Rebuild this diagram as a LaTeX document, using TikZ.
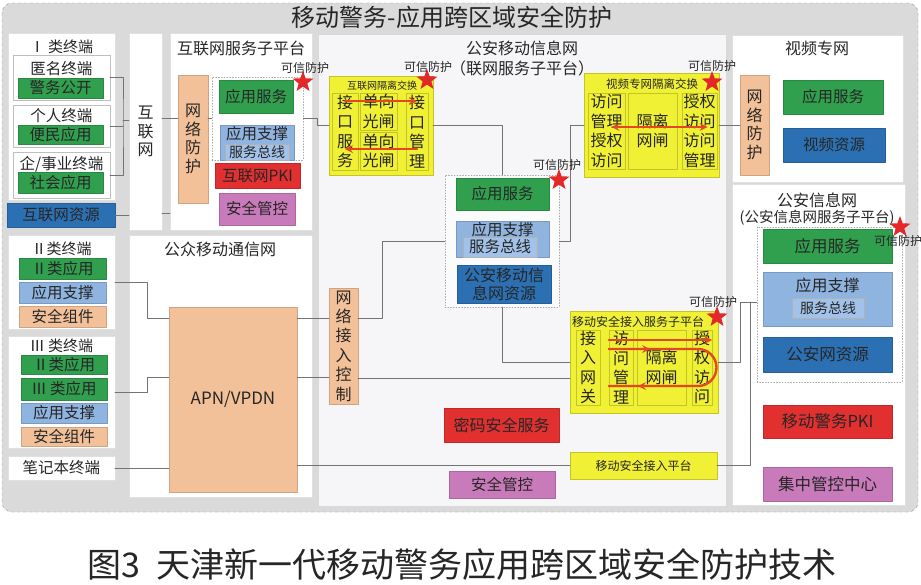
\documentclass[tikz,border=0pt]{standalone}
\usepackage{fontspec}
\setmainfont{Noto Sans CJK SC}
\usetikzlibrary{arrows,shapes.geometric}
\definecolor{framegray}{RGB}{218,218,218}
\definecolor{coregray}{RGB}{246,246,248}
\definecolor{appgreen}{RGB}{48,160,78}
\definecolor{supblue}{RGB}{143,180,224}
\definecolor{busblue}{RGB}{162,194,234}
\definecolor{resblue}{RGB}{44,112,180}
\definecolor{pkired}{RGB}{226,48,48}
\definecolor{ctlpurple}{RGB}{200,122,186}
\definecolor{protorange}{RGB}{243,193,153}
\definecolor{isoyellow}{RGB}{240,240,52}
\definecolor{colline}{RGB}{196,196,40}
\definecolor{flowred}{RGB}{228,72,32}
\definecolor{starred}{RGB}{226,40,40}
\newcommand{\pxfont}[2]{\fontsize{#1}{#2}\selectfont}

\begin{document}
\begin{tikzpicture}[x=1pt, y=-1pt, line cap=round, line join=round, >=stealth,
    every node/.style={inner sep=0pt, align=center, text=black!85, font=\pxfont{15.5}{17}},
    wh/.style 2 args={minimum width=#1pt, minimum height=#2pt},
    panel/.style={fill=white, draw=black!12},
    term/.style={fill=white, draw=black!25},
    dotbox/.style={draw=black!35, dotted, thick},
    appbox/.style={fill=appgreen, draw=appgreen!85!black},
    supbox/.style={fill=supblue, draw=supblue!85!black},
    busbox/.style={fill=busblue, draw=black!30, font=\pxfont{14}{15}},
    resbox/.style={fill=resblue, draw=resblue!85!black},
    pkibox/.style={fill=pkired, draw=pkired!85!black},
    ctlbox/.style={fill=ctlpurple, draw=ctlpurple!85!black},
    protbox/.style={fill=protorange, draw=protorange!85!black, font=\pxfont{16}{18.7}},
    isobox/.style={fill=isoyellow, draw=colline},
    colbox/.style={fill=isoyellow, draw=colline, font=\pxfont{16}{19.5}},
    head/.style={font=\pxfont{16}{18}},
    small/.style={font=\pxfont{#1}{#1}},
    trust/.style={star, star points=5, star point ratio=2.4, fill=starred, minimum size=22pt},
    wire/.style={draw=black!55, line width=1pt},
    flow/.style={draw=flowred, line width=2.4pt, ->},
    flowline/.style={draw=flowred, line width=2.4pt}]
    \useasboundingbox (0,0) rectangle (921,584);
    \fill[white] (0,0) rectangle (921,584);
    \draw[fill=framegray, draw=black!40, dashed, rounded corners=10pt] (2,3) rectangle (918,512);
    \node[font=\pxfont{24}{26}] (title) at (452,17) {移动警务-应用跨区域安全防护};

    \node[panel, wh={107}{167}] (panI) at (61.5,116.5) {};
    \node[font=\pxfont{15}{16}] (panIt) at (61.5,47) {Ⅰ 类终端};
    \node[term, wh={97}{45}] (anon) at (61.5,77.5) {};
    \node (anont) at (61.5,69) {匿名终端};
    \node[appbox, wh={85}{20}] (anonapp) at (60.5,88) {警务公开};
    \node[term, wh={97}{42}] (person) at (61.5,126) {};
    \node (persont) at (61.5,116) {个人终端};
    \node[appbox, wh={85}{19}] (personapp) at (60.5,134.5) {便民应用};
    \node[term, wh={97}{46}] (firm) at (61.5,175) {};
    \node (firmt) at (61.5,164) {企/事业终端};
    \node[appbox, wh={85}{21}] (firmapp) at (60.5,182.5) {社会应用};
    \node[resbox, wh={108}{24}] (inetres) at (61,215) {互联网资源};
    \node[panel, wh={33}{197}, font=\pxfont{16}{18.5}] (inet) at (145.5,131.5) {互\\联\\网};
    \node[panel, wh={142}{197}] (inetplat) at (241,131.5) {};
    \node[head] (inetplatt) at (241,48) {互联网服务子平台};
    \node[protbox, wh={30}{128}] (netprot) at (193,139) {网\\络\\防\\护};
    \node[dotbox, wh={91}{83}] (inetsvc) at (257.5,118.5) {};
    \node[appbox, wh={74}{33}] (inetapp) at (256,96.5) {应用服务};
    \node[supbox, wh={74}{35}] (inetsup) at (257,142.5) {};
    \node (inetsupt) at (257,134) {应用支撑};
    \node[busbox, wh={64}{16}] (inetbus) at (257,152) {服务总线};
    \node[pkibox, wh={85}{25}] (inetpki) at (257.5,175.5) {互联网PKI};
    \node[ctlbox, wh={76}{32}] (inetctl) at (257,209) {安全管控};

    \node[panel, wh={107}{94}] (panII) at (61.5,282) {};
    \node[font=\pxfont{15}{16}] (panIIt) at (61.5,249) {Ⅱ类终端};
    \node[appbox, wh={87}{21}] (IIapp) at (62.5,268.5) {Ⅱ类应用};
    \node[supbox, wh={87}{21}] (IIsup) at (62.5,292.5) {应用支撑};
    \node[protbox, wh={87}{21}, font=\pxfont{15.5}{17}] (IIsec) at (62.5,316.5) {安全组件};
    \node[panel, wh={107}{112}] (panIII) at (61.5,392) {};
    \node[font=\pxfont{15}{16}] (panIIIt) at (61.5,346) {Ⅲ 类终端};
    \node[appbox, wh={86}{19}] (IIIappa) at (64,364.5) {Ⅱ类应用};
    \node[appbox, wh={86}{22}] (IIIappb) at (64,389) {Ⅲ 类应用};
    \node[supbox, wh={86}{20}] (IIIsup) at (64,413) {应用支撑};
    \node[protbox, wh={86}{19}, font=\pxfont{15.5}{17}] (IIIsec) at (64,436.5) {安全组件};
    \node[panel, wh={107}{24}] (note) at (61.5,468) {笔记本终端};
    \node[panel, wh={183}{262}] (mobnet) at (220.5,366) {};
    \node[head] (mobnett) at (220,249) {公众移动通信网};
    \node[protbox, wh={128}{185}, font=\pxfont{17}{18}] (apn) at (233,399.5) {APN/VPDN};

    \node[fill=coregray, draw=black!15, wh={408}{472}] (core) at (522,270) {};
    \node[head] (coret) at (522,48) {公安移动信息网};
    \node[head] (coret2) at (522,68) {（联网服务子平台）};
    \node[isobox, wh={104}{99}] (isoI) at (381,125.5) {};
    \node[small=10] (isoIt) at (382,85.5) {互联网隔离交换};
    \node[colbox, wh={26}{77}] (isoIa) at (345,131.5) {接\\口\\服\\务};
    \node[colbox, wh={37}{37}] (isoIb) at (378.5,111.5) {单向\\光闸};
    \node[colbox, wh={37}{38}] (isoIc) at (378.5,151) {单向\\光闸};
    \node[colbox, wh={22}{77}] (isoId) at (417,131.5) {接\\口\\管\\理};
    \draw[flow] (isoIa |- 0,101) -- (isoId |- 0,101);
    \draw[flow] (isoId |- 0,149) -- (isoIa |- 0,149);

    \node[dotbox, fill=white!60!coregray, wh={114}{132}] (mcore) at (502,241) {};
    \node[appbox, wh={93}{32}] (mapp) at (502.5,194) {应用服务};
    \node[supbox, wh={93}{36}] (msup) at (502.5,239) {};
    \node (msupt) at (502.5,230) {应用支撑};
    \node[busbox, wh={74}{20}, font=\pxfont{15.5}{17}] (mbus) at (500,247) {服务总线};
    \node[resbox, wh={94}{38}, font=\pxfont{16}{18}] (mres) at (504,284) {公安移动信\\息网资源};

    \node[isobox, wh={135}{104}] (isoV) at (651.5,125) {};
    \node[small=11.5] (isoVt) at (652,84) {视频专网隔离交换};
    \node[colbox, wh={37}{76}] (isoVa) at (606.5,131) {访问\\管理\\授权\\访问};
    \node[colbox, wh={49}{76}] (isoVb) at (652.5,131) {隔离\\网闸};
    \node[colbox, wh={35}{76}] (isoVc) at (699.5,131) {授权\\访问\\访问\\管理};
    \draw[flow, <->] ([xshift=5pt]isoVa.center |- 0,127) -- ([xshift=8pt]isoVc.center |- 0,127);

    \node[protbox, wh={29}{116}, font=\pxfont{16}{19.4}] (nac) at (343.5,346) {网\\络\\接\\入\\控\\制};
    \node[isobox, wh={148}{102}] (mas) at (644,362) {};
    \node[small=12] (mast) at (638,321.5) {移动安全接入服务子平台};
    \node[colbox, wh={24}{75}] (masa) at (588,367.5) {接\\入\\网\\关};
    \node[colbox, wh={24}{75}] (masb) at (621,367.5) {访\\问\\管\\理};
    \node[colbox, wh={49}{75}] (masc) at (661.5,367.5) {隔离\\网闸};
    \node[colbox, wh={20}{75}] (masd) at (702,367.5) {授\\权\\访\\问};
    \draw[flow] (masb.west |- 0,340) -- (masd.east |- 0,340);
    \draw[flowline] (masb.west |- 0,349) -- (698,349) arc[start angle=-90, end angle=90, radius=18.5] -- (masb.west |- 0,386);
    \draw[flow] (634,349) -- (650,349);
    \draw[flow] (654,386) -- (638,386);
    \node[pkibox, wh={115}{34}, font=\pxfont{16}{17}] (cipher) at (501.5,425) {密码安全服务};
    \node[ctlbox, wh={106}{27}] (mctl) at (502,484.5) {安全管控};
    \node[isobox, wh={147}{27}, small=12] (masp) at (643.5,465.5) {移动安全接入平台};

    \node[panel, wh={171}{147}] (video) at (817.5,108.5) {};
    \node[head] (videot) at (817,48) {视频专网};
    \node[protbox, wh={29}{100}] (vprot) at (754.5,125) {网\\络\\防\\护};
    \node[appbox, wh={100}{34}] (vapp) at (833,97) {应用服务};
    \node[resbox, wh={102}{34}] (vres) at (834,145) {视频资源};
    \node[panel, wh={173}{321}] (police) at (818.5,344.5) {};
    \node[head] (policet) at (817,200) {公安信息网};
    \node[font=\pxfont{14.5}{16}] (policet2) at (817,218) {(公安信息网服务子平台)};
    \node[dotbox, wh={145}{155}] (pcore) at (829.5,304.5) {};
    \node[appbox, wh={129}{34}, font=\pxfont{16.5}{18}] (papp) at (827.5,246) {应用服务};
    \node[supbox, wh={129}{54}] (psup) at (827.5,299) {};
    \node[font=\pxfont{16}{18}] (psupt) at (827.5,285) {应用支撑};
    \node[busbox, wh={72}{20}] (pbus) at (828,308) {服务总线};
    \node[resbox, wh={129}{35}, font=\pxfont{16.5}{18}] (pres) at (827.5,354.5) {公安网资源};
    \node[pkibox, wh={129}{33}, font=\pxfont{16.5}{18}] (ppki) at (827.5,421.5) {移动警务PKI};
    \node[ctlbox, wh={129}{34}, font=\pxfont{16.5}{18}] (pctl) at (827.5,484) {集中管控中心};

    \coordinate (busI) at (123,120);
    \coordinate (bendI) at (317,118);
    \coordinate (bendN) at (382,318);
    \coordinate (bendV) at (570,241);
    \coordinate (bendP) at (740,302);
    \coordinate (bendQ) at (750,302);
    \coordinate (busII) at (147,282);
    \coordinate (busIII) at (147,392);
    \draw[wire] (anon.east) -| (busI) |- (firm.east);
    \draw[wire] (person.east) -- (person.east -| busI);
    \draw[wire] (busI) -- (busI -| inet.west);
    \draw[wire] (inetres.east) -- (inetres.east -| inet.west);
    \draw[wire] (inet.east |- 0,118) -- (netprot.west |- 0,118);
    \draw[wire] (inet.east |- 0,213) -- (inetplat.west |- 0,213);
    \draw[wire] (netprot.east |- 0,118) -- (inetsvc.west |- 0,118);
    \draw[wire] (inetsvc.east |- 0,118) -- (bendI) |- (isoI.west);
    \draw[wire] (isoI.east) -| (mcore.north);
    \draw[wire] (mcore.west) -| (bendN) -- (bendN -| nac.east);
    \draw[wire] (mcore.east) -- (bendV) |- (isoV.west);
    \draw[wire] (mcore.south) |- (mas.west);
    \draw[wire] (isoV.east) -- (vprot.west);
    \draw[wire] (mas.east) -| (bendP) -- (bendP -| pcore.west);
    \draw[wire] (masp.east) -| (bendQ);
    \draw[wire] (panII.east) -- (busII) |- (apn.west |- 0,318);
    \draw[wire] (panIII.east) -- (busIII) |- (apn.west |- 0,377);
    \draw[wire] (note.east) -- (note.east -| apn.west);
    \draw[wire] (apn.east |- 0,318) -- (nac.west |- 0,318);
    \draw[wire] (apn.east |- 0,377) -- (nac.west |- 0,377);
    \draw[wire] (nac.east |- 0,378) -- (mas.west |- 0,378);
    \draw[wire] (apn.east |- masp.west) -- (masp.west);

    \node[trust] (star1) at (303,82) {};
    \node[small=12] (star1t) at (305,68) {可信防护};
    \node[trust] (star2) at (427,80) {};
    \node[small=12] (star2t) at (428,67) {可信防护};
    \node[trust] (star3) at (559,180) {};
    \node[small=12] (star3t) at (557,165) {可信防护};
    \node[trust] (star4) at (712,82) {};
    \node[small=12] (star4t) at (712,66) {可信防护};
    \node[trust] (star5) at (717,317) {};
    \node[small=12] (star5t) at (713,302) {可信防护};
    \node[trust] (star6) at (900,227) {};
    \node[small=12] (star6t) at (898,241) {可信防护};

    \node[font=\pxfont{34}{36}] (caption) at (462,565) {图3\ \ 天津新一代移动警务应用跨区域安全防护技术};
\end{tikzpicture}
\end{document}
